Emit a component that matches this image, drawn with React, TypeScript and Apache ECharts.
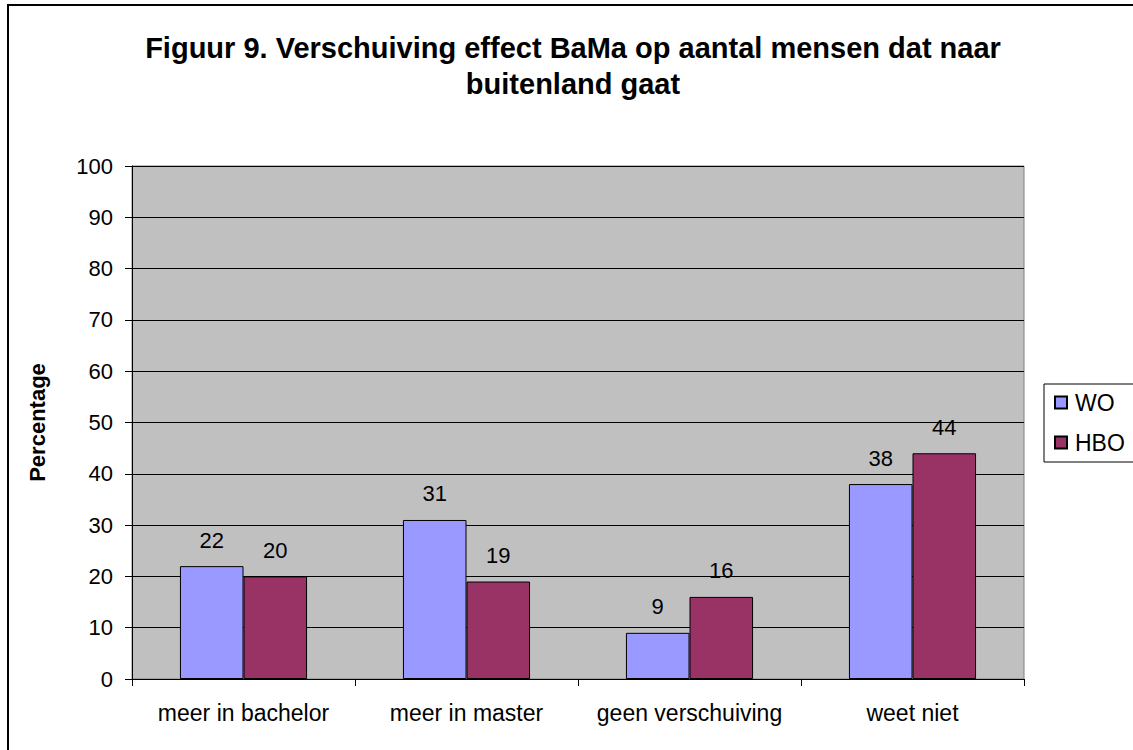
import React, { useEffect, useRef } from "react";
import * as echarts from "echarts";

const titleLines = ["Figuur 9. Verschuiving effect BaMa op aantal mensen dat naar", "buitenland gaat"];
const categories = ["meer in bachelor", "meer in master", "geen verschuiving", "weet niet"];
const seriesNames = ["WO", "HBO"];
const woValues = [22, 31, 9, 38];
const hboValues = [20, 19, 16, 44];
const yAxisName = "Percentage";

const FONT = '"Liberation Sans", Arial, sans-serif';

export default function App() {
  const ref = useRef<HTMLDivElement>(null);
  useEffect(() => {
    if (!ref.current) return;
    const chart = echarts.init(ref.current, null, { renderer: "svg" });
    const labelStyle = {
      show: true,
      position: "top" as const,
      distance: 15,
      color: "#000",
      fontFamily: FONT,
      fontSize: 22,
    };
    chart.setOption({
      animation: false,
      backgroundColor: "#fff",
      textStyle: { fontFamily: FONT },
      graphic: [
        {
          type: "rect",
          shape: { x: 8, y: 5, width: 1200, height: 800 },
          style: { fill: "none", stroke: "#000", lineWidth: 2 },
          silent: true,
        },
        {
          type: "text",
          x: 573,
          y: 30,
          style: {
            text: titleLines.join("\n"),
            textAlign: "center",
            textVerticalAlign: "top",
            fontFamily: FONT,
            fontWeight: "bold",
            fontSize: 29,
            lineHeight: 36,
            fill: "#000",
          },
        },
      ],
      grid: {
        left: 132,
        top: 166,
        right: 109,
        bottom: 71,
        show: true,
        backgroundColor: "#C0C0C0",
        borderColor: "#808080",
        borderWidth: 1,
      },
      legend: {
        orient: "vertical",
        left: 1044,
        top: 384,
        data: seriesNames,
        borderColor: "#000",
        borderWidth: 1,
        padding: [7, 10, 8, 10],
        itemWidth: 12,
        itemHeight: 12,
        itemGap: 17,
        icon: "rect",
        textStyle: { fontFamily: FONT, fontSize: 23, color: "#000", padding: [0, 0, 0, 3] },
      },
      xAxis: {
        type: "category",
        data: categories,
        axisLine: { lineStyle: { color: "#000", width: 1 } },
        axisTick: { show: true, length: 7, lineStyle: { color: "#000" } },
        axisLabel: { color: "#000", fontFamily: FONT, fontSize: 23, margin: 22, interval: 0 },
      },
      yAxis: {
        type: "value",
        min: 0,
        max: 100,
        interval: 10,
        name: yAxisName,
        nameLocation: "middle",
        nameGap: 84,
        nameTextStyle: { fontFamily: FONT, fontWeight: "bold", fontSize: 22, color: "#000" },
        axisLine: { show: true, lineStyle: { color: "#000", width: 1 } },
        axisTick: { show: true, length: 7, lineStyle: { color: "#000" } },
        axisLabel: { color: "#000", fontFamily: FONT, fontSize: 22, margin: 19 },
        splitLine: { show: true, lineStyle: { color: "#000", width: 1 } },
      },
      series: [
        {
          name: seriesNames[0],
          type: "bar",
          data: woValues,
          barGap: "0%",
          barCategoryGap: "43%",
          itemStyle: { color: "#9999FF", borderColor: "#000", borderWidth: 1 },
          label: labelStyle,
        },
        {
          name: seriesNames[1],
          type: "bar",
          data: hboValues,
          barGap: "0%",
          barCategoryGap: "43%",
          itemStyle: { color: "#993366", borderColor: "#000", borderWidth: 1 },
          label: labelStyle,
        },
      ],
    });
    return () => chart.dispose();
  }, []);
  return <div ref={ref} style={{ position: "absolute", left: 0, top: 0, width: 1133, height: 750 }} />;
}
